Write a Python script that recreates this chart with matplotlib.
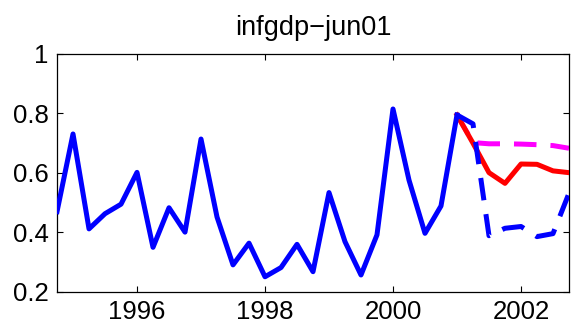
import matplotlib
matplotlib.use("Agg")
import matplotlib.pyplot as plt

plt.rcParams['font.family'] = ['Liberation Sans', 'DejaVu Sans']

hist_t = [1994.75, 1995.0, 1995.25, 1995.5, 1995.75, 1996.0, 1996.25, 1996.5, 1996.75,
          1997.0, 1997.25, 1997.5, 1997.75, 1998.0, 1998.25, 1998.5, 1998.75,
          1999.0, 1999.25, 1999.5, 1999.75, 2000.0, 2000.25, 2000.5, 2000.75, 2001.0]
hist_v = [0.470, 0.731, 0.412, 0.463, 0.495, 0.602, 0.350, 0.483, 0.401,
          0.714, 0.452, 0.291, 0.364, 0.251, 0.282, 0.360, 0.268,
          0.534, 0.369, 0.257, 0.392, 0.815, 0.576, 0.397, 0.489, 0.795]

fc_t = [2001.0, 2001.25, 2001.5, 2001.75, 2002.0, 2002.25, 2002.5, 2002.75]
red_v = [0.795, 0.700, 0.601, 0.565, 0.630, 0.629, 0.607, 0.601]
magenta_v = [0.795, 0.702, 0.698, 0.698, 0.697, 0.695, 0.692, 0.683]
bluedash_v = [0.795, 0.765, 0.389, 0.414, 0.420, 0.386, 0.396, 0.532]

xticks = [1996, 1998, 2000, 2002]
yticks = [0.2, 0.4, 0.6, 0.8, 1.0]
ytick_labels = ['0.2', '0.4', '0.6', '0.8', '1']

fig = plt.figure(figsize=(5.73, 3.31), dpi=100)
ax = fig.add_axes([0.0995, 0.118, 0.8935, 0.719])

lw = 3.6
ax.plot(fc_t, magenta_v, color='#ff00ff', lw=lw, dashes=(4.5, 2.8), zorder=2)
ax.plot(fc_t, red_v, color='#ff0000', lw=lw, zorder=3)
ax.plot(fc_t, bluedash_v, color='#0000ff', lw=lw, dashes=(4.5, 2.8), zorder=4)
ax.plot(hist_t, hist_v, color='#0000ff', lw=lw, zorder=5)

ax.set_xlim(1994.75, 2002.75)
ax.set_ylim(0.2, 1.0)
ax.set_xticks(xticks)
ax.set_xticklabels([str(x) for x in xticks])
ax.set_yticks(yticks)
ax.set_yticklabels(ytick_labels)
ax.tick_params(direction='in', length=4, width=0.8, labelsize=18.5,
               top=True, right=True, pad=6)
for s in ax.spines.values():
    s.set_linewidth(0.9)
ax.set_title('infgdp\u2212jun01', fontsize=19.5, pad=14)

fig.savefig('out.png', dpi=100)
